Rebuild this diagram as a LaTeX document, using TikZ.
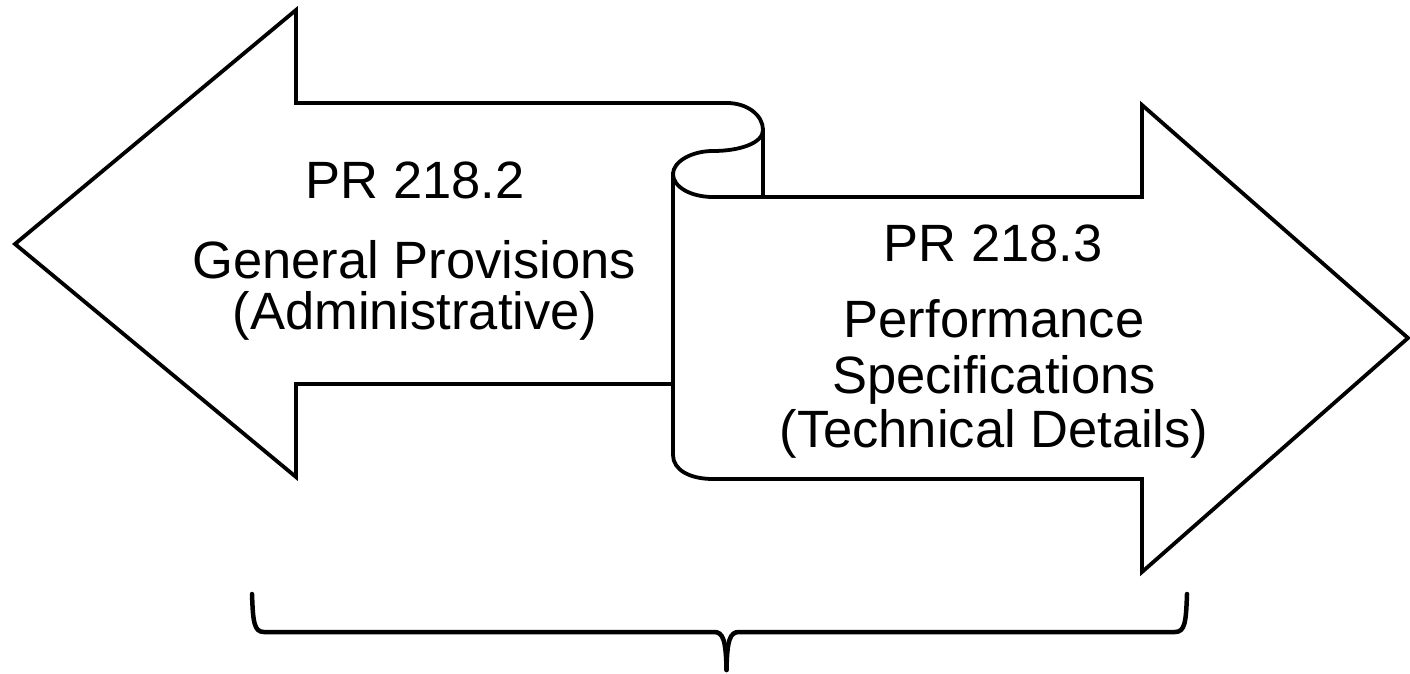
\documentclass[tikz,border=0pt]{standalone}
\usepackage{fontspec}
\setmainfont{Liberation Sans}
\begin{document}
\begin{tikzpicture}[x=1pt,y=-1pt,
  outline/.style={draw=black,line width=3.8pt,line join=miter},
  bracestyle/.style={draw=black,line width=4.5pt,line cap=round},
  lbl/.style={inner sep=0pt,anchor=base,font=\fontsize{52.5}{57}\selectfont}]
\useasboundingbox (0,0) rectangle (1410,674);
% named points of the shapes
\coordinate (ltip) at (15,244);
\coordinate (lbt) at (296,10);
\coordinate (lbb) at (296,477);
\coordinate (rtip) at (1408,338);
% left arrow (back sheet)
\draw[outline] (673,384) -- (296,384) -- (lbb) -- (ltip) -- (lbt) -- (296,103) -- (727,103)
  .. controls (747,103) and (763,115) .. (763,130);
% scroll front sheet and right arrow
\draw[outline] (763,130)
  .. controls (763,143) and (740,151) .. (713,151)
  .. controls (691,151) and (673,162) .. (673,174)
  .. controls (673,187) and (691,197) .. (713,197)
  -- (1142,197) -- (1142,105) -- (rtip) -- (1142,572) -- (1142,479) -- (713,479)
  .. controls (690,479) and (673,470) .. (673,455) -- (673,172);
\draw[outline] (763,128) -- (763,198);
% brace
\draw[bracestyle] (252,594) .. controls (253,622) and (254,632) .. (264,632) -- (714,632)
  .. controls (723,632) and (726,640) .. (726.5,670);
\draw[bracestyle] (1187,594) .. controls (1186,622) and (1185,632) .. (1175,632) -- (739,632)
  .. controls (730,632) and (727,640) .. (726.5,670);
% texts
\node[lbl] (t1) at (415,198) {PR 218.2};
\node[lbl] (t2) at (414,278) {General Provisions};
\node[lbl] (t3) at (415,329) {(Administrative)};
\node[lbl] (r1) at (993,261) {PR 218.3};
\node[lbl] (r2) at (994,337) {Performance};
\node[lbl] (r3) at (994,393) {Specifications};
\node[lbl] (r4) at (994,447) {(Technical Details)};
\end{tikzpicture}
\end{document}
